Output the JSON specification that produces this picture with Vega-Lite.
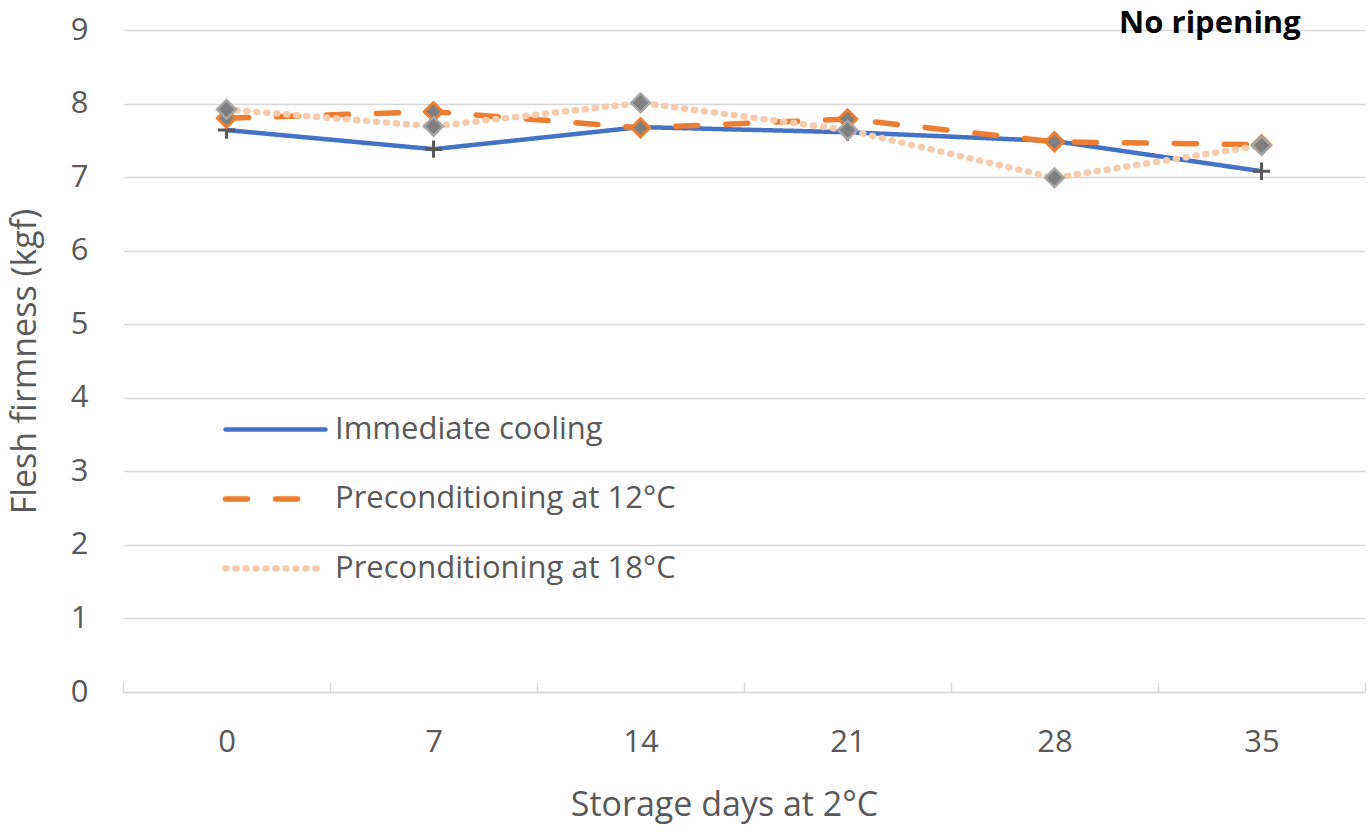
{
  "$schema": "https://vega.github.io/schema/vega-lite/v6.json",
  "width": 1242,
  "height": 662,
  "autosize": {"type": "none"},
  "padding": {"left": 123, "top": 30, "right": 5, "bottom": 140},
  "background": "white",
  "config": {"view": {"stroke": null}, "font": "Open Sans"},
  "title": {"text": "No ripening", "anchor": "end", "orient": "top", "font": "Open Sans", "fontSize": 31, "fontWeight": "bold", "color": "#000000", "baseline": "middle", "offset": -19, "dy": 22, "dx": -65},
  "data": {"values": [
    {"day": 0, "series": "Immediate cooling", "value": 7.64},
    {"day": 7, "series": "Immediate cooling", "value": 7.38},
    {"day": 14, "series": "Immediate cooling", "value": 7.68},
    {"day": 21, "series": "Immediate cooling", "value": 7.61},
    {"day": 28, "series": "Immediate cooling", "value": 7.49},
    {"day": 35, "series": "Immediate cooling", "value": 7.08},
    {"day": 0, "series": "Preconditioning at 12°C", "value": 7.80},
    {"day": 7, "series": "Preconditioning at 12°C", "value": 7.89},
    {"day": 14, "series": "Preconditioning at 12°C", "value": 7.67},
    {"day": 21, "series": "Preconditioning at 12°C", "value": 7.79},
    {"day": 28, "series": "Preconditioning at 12°C", "value": 7.48},
    {"day": 35, "series": "Preconditioning at 12°C", "value": 7.44},
    {"day": 0, "series": "Preconditioning at 18°C", "value": 7.92},
    {"day": 7, "series": "Preconditioning at 18°C", "value": 7.69},
    {"day": 14, "series": "Preconditioning at 18°C", "value": 8.01},
    {"day": 21, "series": "Preconditioning at 18°C", "value": 7.64},
    {"day": 28, "series": "Preconditioning at 18°C", "value": 6.99},
    {"day": 35, "series": "Preconditioning at 18°C", "value": 7.43}
  ]},
  "encoding": {
    "x": {"field": "day", "type": "ordinal", "scale": {"type": "band", "paddingInner": 0, "paddingOuter": 0},
      "axis": {"title": "Storage days at 2°C", "labelAngle": 0, "domainColor": "#d9d9d9", "domainWidth": 1.5, "tickColor": "#d9d9d9", "tickSize": -10, "tickWidth": 1.5, "tickBand": "extent", "grid": false, "labelFontSize": 31, "labelColor": "#595959", "labelBaseline": "middle", "labelPadding": 60, "labelFont": "Open Sans", "titleFont": "Open Sans", "titleFontSize": 34, "titleFontWeight": "normal", "titleColor": "#595959", "titleX": 601, "titleY": 113, "titleBaseline": "middle"}},
    "y": {"field": "value", "type": "quantitative", "scale": {"domain": [0, 9], "nice": false, "zero": true},
      "axis": {"title": "Flesh firmness (kgf)", "values": [0,1,2,3,4,5,6,7,8,9], "labelOverlap": false, "domain": false, "ticks": false, "grid": true, "gridColor": "#d9d9d9", "gridWidth": 1.5, "labelFontSize": 31, "labelColor": "#595959", "labelPadding": 35, "labelFont": "Open Sans", "titleFont": "Open Sans", "titleFontSize": 34, "titleFontWeight": "normal", "titleColor": "#595959", "titleX": -98, "titleY": 331, "titleBaseline": "middle", "titleAngle": -90}}
  },
  "layer": [
    {"transform": [{"filter": "datum.series === 'Immediate cooling'"}],
     "mark": {"type": "line", "strokeCap": "round"},
     "encoding": {
       "color": {"field": "series", "type": "nominal", "scale": {"domain": ["Immediate cooling", "Preconditioning at 12°C", "Preconditioning at 18°C"], "range": ["#4472C4", "#ED7D31", "#F8CBAD"]}, "legend": {"orient": "none", "legendX": 99, "legendY": 347, "title": null, "symbolType": "stroke", "symbolSize": 10000, "labelFontSize": 31, "labelColor": "#595959", "labelFont": "Open Sans", "labelOffset": 6, "labelLimit": 0, "rowPadding": 1, "encode": {"symbols": {"update": {"strokeCap": {"value": "round"}}}}}},
       "strokeDash": {"field": "series", "type": "nominal", "scale": {"domain": ["Immediate cooling", "Preconditioning at 12°C", "Preconditioning at 18°C"], "range": [[1, 0], [22, 28], [1, 9]]}},
       "strokeWidth": {"field": "series", "type": "nominal", "scale": {"domain": ["Immediate cooling", "Preconditioning at 12°C", "Preconditioning at 18°C"], "range": [4.5, 6.5, 4.5]}}
     }},
    {"transform": [{"filter": "datum.series === 'Immediate cooling'"}],
     "mark": {"type": "point", "shape": "M-1,0H1M0,-1V1", "filled": false, "stroke": "#595959", "strokeWidth": 3, "size": 300, "opacity": 1}},
    {"transform": [{"filter": "datum.series === 'Preconditioning at 12°C'"}],
     "mark": {"type": "line", "strokeCap": "round"},
     "encoding": {
       "color": {"field": "series", "type": "nominal"},
       "strokeDash": {"field": "series", "type": "nominal"},
       "strokeWidth": {"field": "series", "type": "nominal"}
     }},
    {"transform": [{"filter": "datum.series === 'Preconditioning at 12°C'"}],
     "mark": {"type": "point", "shape": "diamond", "filled": true, "fill": "#7f7f7f", "stroke": "#ED7D31", "strokeWidth": 3, "size": 330, "opacity": 1}},
    {"transform": [{"filter": "datum.series === 'Preconditioning at 18°C'"}],
     "mark": {"type": "line", "strokeCap": "round"},
     "encoding": {
       "color": {"field": "series", "type": "nominal"},
       "strokeDash": {"field": "series", "type": "nominal"},
       "strokeWidth": {"field": "series", "type": "nominal"}
     }},
    {"transform": [{"filter": "datum.series === 'Preconditioning at 18°C'"}],
     "mark": {"type": "point", "shape": "diamond", "filled": true, "fill": "#7f7f7f", "stroke": "#a6a6a6", "strokeWidth": 2.5, "size": 350, "opacity": 1}}
  ]
}
